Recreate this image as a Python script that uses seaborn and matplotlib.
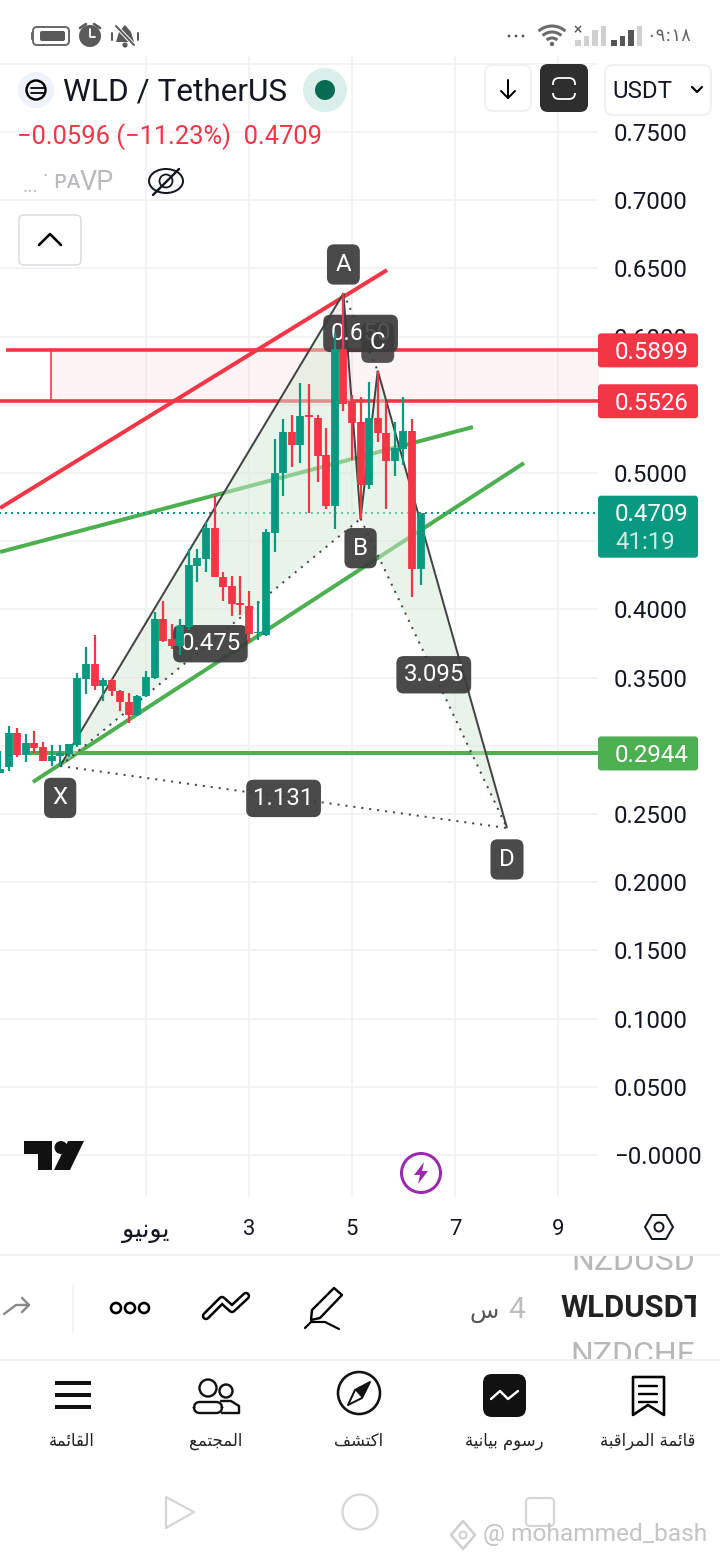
import matplotlib
matplotlib.use("Agg")
import matplotlib.pyplot as plt
import matplotlib.patches as mp
import pandas as pd
import seaborn as sns

# candle data, 4h bars, index 0 = start of June
candle_idx = list(range(-17, 33))
opens = [.2803, .2842, .3091, .2935, .3018, .2989, .2891, .2925, .2940, .3003,
         .3490, .3597, .3441, .3482, .3399, .3324, .3226, .3368, .3495, .3927,
         .3781, .3734, .3873, .4321, .4372, .4594, .4235, .4172, .4044, .4025,
         .3825, .3812, .4563, .4998, .5298, .5208, .5425, .5401, .5130, .4758,
         .5907, .5530, .5371, .4914, .5401, .5296, .5090, .5178, .5308, .4294]
highs = [.2964, .3145, .3128, .3087, .3106, .3028, .3003, .3003, .3013, .3531,
         .3722, .3810, .3495, .3492, .3409, .3385, .3372, .3551, .3979, .4059,
         .3893, .3927, .4440, .4440, .4643, .4831, .4272, .4245, .4245, .4133,
         .4064, .4587, .5249, .5393, .5425, .5657, .5653, .5423, .5327, .6024,
         .6317, .5572, .5560, .5667, .5750, .5523, .5371, .5560, .5393, .4709]
lows = [.2803, .2818, .2920, .2884, .2945, .2891, .2852, .2852, .2920, .2994,
        .3382, .3412, .3331, .3368, .3258, .3170, .3219, .3360, .3490, .3761,
        .3712, .3668, .3849, .4203, .4277, .4235, .4064, .3952, .3959, .3763,
        .3776, .3805, .4423, .4831, .5046, .5076, .4709, .4936, .4739, .4587,
        .5457, .5095, .4665, .4880, .5230, .4739, .4978, .5059, .4093, .4176]
closes = [.2827, .3091, .2935, .3018, .2984, .2891, .2925, .2945, .3013, .3495,
          .3597, .3441, .3482, .3399, .3324, .3228, .3368, .3502, .3927, .3768,
          .3732, .3878, .4323, .4374, .4594, .4235, .4167, .4040, .4035, .3820,
          .3837, .4565, .4998, .5298, .5208, .5418, .5413, .5127, .4758, .5907,
          .5506, .5369, .4914, .5401, .5296, .5090, .5186, .5308, .4294, .4704]

x_ticks = [0, 12, 24, 36, 48]
y_ticks = [.80, .75, .70, .65, .60, .55, .50, .45, .40, .35, .30, .25, .20, .15, .10, .05, 0]
y_tick_labels = ["", "0.7500", "0.7000", "0.6500", "0.6000", "0.5500", "0.5000", "0.4500", "0.4000",
                 "0.3500", "0.3000", "0.2500", "0.2000", "0.1500", "0.1000", "0.0500", "\u22120.0000"]

# harmonic pattern points (index, price)
pt_x = (-10, .2852)
pt_a = (23, .6317)
pt_b = (25, .4665)
pt_c = (27, .5750)
pt_d = (42.06, .2397)

# drawings
red_trend = ([-17, 28.08], [.4743, .6488])
green_upper = ([-17, 38.1], [.4421, .5337])
green_lower = ([-13.17, 44.04], [.2735, .5073])
resistance_top = .5899
resistance_bottom = .5526
support = .2944
last_price = .4709

GREEN = "#089981"
RED = "#F23645"
LINE_GREEN = "#4CAF50"
DARK = "#434343"
TEXT = "#131722"
GRID = "#F2F3F4"

# arabic has to be shaped by hand, matplotlib does no joining or bidi
FORMS = {
    "ا": (0xFE8D, 0xFE8E, None, None), "ب": (0xFE8F, 0xFE90, 0xFE91, 0xFE92),
    "ة": (0xFE93, 0xFE94, None, None), "ت": (0xFE95, 0xFE96, 0xFE97, 0xFE98),
    "ج": (0xFE9D, 0xFE9E, 0xFE9F, 0xFEA0), "ر": (0xFEAD, 0xFEAE, None, None),
    "س": (0xFEB1, 0xFEB2, 0xFEB3, 0xFEB4), "ش": (0xFEB5, 0xFEB6, 0xFEB7, 0xFEB8),
    "ع": (0xFEC9, 0xFECA, 0xFECB, 0xFECC), "ف": (0xFED1, 0xFED2, 0xFED3, 0xFED4),
    "ق": (0xFED5, 0xFED6, 0xFED7, 0xFED8), "ك": (0xFED9, 0xFEDA, 0xFEDB, 0xFEDC),
    "ل": (0xFEDD, 0xFEDE, 0xFEDF, 0xFEE0), "م": (0xFEE1, 0xFEE2, 0xFEE3, 0xFEE4),
    "ن": (0xFEE5, 0xFEE6, 0xFEE7, 0xFEE8), "و": (0xFEED, 0xFEEE, None, None),
    "ي": (0xFEF1, 0xFEF2, 0xFEF3, 0xFEF4), "ئ": (0xFE89, 0xFE8A, 0xFE8B, 0xFE8C),
}


def shape(word):
    out = []
    for i, ch in enumerate(word):
        if ch not in FORMS:
            out.append(ch)
            continue
        prev = word[i - 1] if i > 0 else " "
        nxt = word[i + 1] if i + 1 < len(word) else " "
        join_prev = prev in FORMS and FORMS[prev][2] is not None
        join_next = FORMS[ch][2] is not None and nxt in FORMS
        if join_prev and join_next:
            code = FORMS[ch][3]
        elif join_prev:
            code = FORMS[ch][1]
        elif join_next:
            code = FORMS[ch][2]
        else:
            code = FORMS[ch][0]
        out.append(chr(code))
    return "".join(reversed(out))


def pt(px):
    return px * 0.72


sns.set_theme(style="white", rc={"lines.solid_capstyle": "butt", "lines.dash_capstyle": "butt",
                                 "axes.edgecolor": "white"})
plt.rcParams["font.family"] = ["Roboto", "DejaVu Sans"]

fig = plt.figure(figsize=(7.2, 15.6), dpi=100)
ax = fig.add_axes([0, (1560 - 1197) / 1560, 598 / 720, (1197 - 56) / 1560], zorder=1)
ax.patch.set_alpha(0)

df = pd.DataFrame({"idx": candle_idx, "open": opens, "high": highs, "low": lows, "close": closes})
df["dir"] = ["up" if c >= o else "down" for o, c in zip(opens, closes)]
palette = {"up": GREEN, "down": RED}

wicks = df.melt(id_vars=["idx", "dir"], value_vars=["high", "low"], value_name="price")
bodies = df.melt(id_vars=["idx", "dir"], value_vars=["open", "close"], value_name="price")


def draw(xs, ys, color, width, z, style="-"):
    sns.lineplot(x=xs, y=ys, color=color, lw=pt(width), zorder=z, ax=ax, sort=False,
                 estimator=None, linestyle=style, legend=False)


# resistance zone
zone_start = -11.07
zone_end = 53
ax.fill_between([zone_start, zone_end], resistance_bottom, resistance_top, color=RED, alpha=.05, lw=0, zorder=1)
draw([zone_start, zone_start], [resistance_bottom, resistance_top], RED, 1.6, 1.5)
draw([-16.3, zone_end], [resistance_top, resistance_top], RED, 3.6, 2)
draw([-17.1, zone_end], [resistance_bottom, resistance_bottom], RED, 3.6, 2)
draw([-14, zone_end], [support, support], LINE_GREEN, 4, 2)

# trend lines
draw(red_trend[0], red_trend[1], RED, 4, 2)
draw(green_upper[0], green_upper[1], LINE_GREEN, 4, 2)
draw(green_lower[0], green_lower[1], LINE_GREEN, 4, 2)
draw([-17.1, zone_end], [last_price, last_price], GREEN, 2, 2.2, (0, (1, 2)))

# pattern fill sits over the lines and washes them out
for tri in [(pt_x, pt_a, pt_b), (pt_b, pt_c, pt_d)]:
    ax.fill([p[0] for p in tri], [p[1] for p in tri], color="#D3E9D5", alpha=.5, lw=0, zorder=2.5)

for a, b in [(pt_x, pt_a), (pt_a, pt_b), (pt_b, pt_c), (pt_c, pt_d)]:
    draw([a[0], b[0]], [a[1], b[1]], DARK, 2, 2.6)
for a, b in [(pt_x, pt_b), (pt_a, pt_c), (pt_b, pt_d), (pt_x, pt_d)]:
    draw([a[0], b[0]], [a[1], b[1]], DARK, 2, 2.6, (0, (1, 3)))


def tag(x, y, s, pad=.3, alpha=.93):
    ax.annotate(s, (x, y), xytext=(0, -1), textcoords="offset points", color="white", fontsize=pt(24),
                ha="center", va="center", zorder=3, annotation_clip=False,
                bbox=dict(boxstyle=f"round,pad={pad},rounding_size=.3", fc="#3C3C3C", ec="none", alpha=alpha))


def mid(a, b):
    return (a[0] + b[0]) / 2, (a[1] + b[1]) / 2


tag(*mid(pt_x, pt_b), "0.475")
tag(*mid(pt_a, pt_c), "0.650")
tag(*mid(pt_b, pt_d), "3.095")
tag(*mid(pt_x, pt_d), "1.131")
tag(pt_a[0], pt_a[1] + .0222, "A", .36)
tag(pt_c[0], pt_c[1] + .0215, "C", .36, alpha=.88)
tag(pt_b[0], pt_b[1] - .0206, "B", .36)
tag(pt_x[0], pt_x[1] - .0224, "X", .36)
tag(pt_d[0], pt_d[1] - .022, "D", .36)

# candles go on top of all the drawings
sns.lineplot(data=wicks, x="idx", y="price", hue="dir", units="idx", estimator=None, sort=False,
             palette=palette, lw=pt(2.2), legend=False, zorder=4, ax=ax)
sns.lineplot(data=bodies, x="idx", y="price", hue="dir", units="idx", estimator=None, sort=False,
             palette=palette, lw=pt(7.8), legend=False, zorder=5, ax=ax)

ax.set_xlim((0 - 146) / 8.583, (598 - 146) / 8.583)
ax.set_ylim((1155 - 1197) / 1364, (1155 - 56) / 1364)
ax.set_xticks(x_ticks)
ax.set_xticklabels([shape("يونيو"), "3", "5", "7", "9"])
ax.yaxis.tick_right()
ax.set_yticks(y_ticks)
ax.set_yticklabels(y_tick_labels)
ax.tick_params(axis="y", length=0, pad=pt(16), labelsize=pt(24), labelcolor=TEXT)
ax.tick_params(axis="x", length=0, pad=pt(22), labelsize=pt(22), labelcolor=TEXT)
ax.get_xticklabels()[0].set_fontsize(pt(25))
ax.grid(True, color=GRID, lw=pt(2))
ax.set_axisbelow(True)
ax.set_xlabel("")
ax.set_ylabel("")
for s in ax.spines.values():
    s.set_visible(False)

# overlay in pixel coordinates for the app chrome
ui = fig.add_axes([0, 0, 1, 1], zorder=2)
ui.set_xlim(0, 720)
ui.set_ylim(1560, 0)
ui.axis("off")
ui.patch.set_alpha(0)


def price_y(p):
    return 1560 - ax.transData.transform((0, p))[1]


def rbox(x0, y0, x1, y1, fc="none", ec="none", lw=0, r=6, **kw):
    b = mp.FancyBboxPatch((x0, y0), x1 - x0, y1 - y0, boxstyle=f"round,pad=0,rounding_size={r}",
                          fc=fc, ec=ec, lw=pt(lw), **kw)
    ui.add_patch(b)
    return b


def circ(x, y, r, fc="none", ec="none", lw=0):
    ui.add_patch(mp.Circle((x, y), r, fc=fc, ec=ec, lw=pt(lw)))


def poly(pts, fc="none", ec="none", lw=0, closed=True):
    ui.add_patch(mp.Polygon(pts, closed=closed, fc=fc, ec=ec, lw=pt(lw), joinstyle="round"))


def line(xs, ys, c="black", lw=2, **kw):
    ui.plot(xs, ys, color=c, lw=pt(lw), solid_capstyle="round", **kw)


def label(x, y, s, px, c=TEXT, ha="left", **kw):
    # va=center sits about 2px high for this font
    return ui.text(x, y + 2, s, fontsize=pt(px), color=c, ha=ha, va="center", **kw)


# price tags on the axis
for p, colour, txt in [(resistance_top, RED, "0.5899"), (resistance_bottom, RED, "0.5526"),
                       (support, LINE_GREEN, "0.2944")]:
    y = price_y(p)
    rbox(598, y - 17, 698, y + 17, fc=colour, r=3)
    label(615, y, txt, 24, "white")
y = price_y(last_price)
rbox(598, y - 17, 698, y + 45, fc=GREEN, r=3)
label(615, y, "0.4709", 24, "white")
label(615, y + 28, "41:19", 24, "#CDEBE5")

# header
circ(36, 90, 18, fc="#EEF2FA")
circ(36, 90, 9.5, ec="black", lw=2.4)
line([31, 45], [87.5, 87.5], lw=1.8)
line([31, 45], [92.5, 92.5], lw=1.8)
label(63, 90, "WLD / TetherUS", 31.5)
circ(325, 90, 22, fc="#DAEFEA")
circ(325, 90, 10, fc="#086B54")
label(17, 135, "\u22120.0596 (\u221211.23%)  0.4709", 25.5, RED)
label(23, 184, "...", 20, "#B8BABD")
label(42, 175, "\u00b7", 20, "#B8BABD")
label(53, 179, "\u1d18\u1d00", 25, "#B8BABD", family=["DejaVu Sans"])
label(80, 181, "VP", 27, "#B8BABD")
ui.add_patch(mp.Ellipse((166, 181), 34, 24, fc="none", ec="#131722", lw=pt(2)))
circ(166, 181, 6.5, ec="#131722", lw=1.8)
line([153, 179], [195, 169], "#131722", 2.4)
rbox(19, 215, 81, 265, ec="#DADCE0", lw=1.5, fc="white", r=5)
line([39, 50, 61], [245, 234, 245], "black", 2.6)

# top right buttons
rbox(485, 65, 531, 111, ec="#EEEFF1", lw=1.8, fc="white", r=8)
line([508, 508], [80, 98], "black", 2)
line([501, 508, 515], [91, 98, 91], "black", 2)
rbox(540, 64, 588, 112, fc="#2E2E2E", r=8)
rbox(553, 78, 575, 99, ec="white", lw=1.8, r=6)
ui.plot([550, 578], [88.5, 88.5], color="#2E2E2E", lw=pt(8), solid_capstyle="butt")
rbox(605, 65, 711, 115, ec="#EEEFF1", lw=1.8, fc="white", r=8)
label(612, 90, "USDT", 24)
line([692, 697, 702], [87, 92, 87], "black", 2.2)

# status bar
rbox(33, 27, 69, 45, ec="#6A6A6A", lw=2, r=4)
rbox(40, 31, 65, 41, fc="#5A5A5A", r=2)
line([31.5, 31.5], [33, 39], "#6A6A6A", 2)
circ(90, 36, 11, fc="#5A5A5A")
line([90, 90, 95], [29, 37, 37], "white", 1.8)
line([80, 86], [28, 24], "#5A5A5A", 2.6)
line([94, 100], [24, 28], "#5A5A5A", 2.6)
poly([(116, 42), (119, 32), (125, 25), (131, 32), (134, 42)], fc="#5A5A5A")
circ(125, 45, 2.6, fc="#5A5A5A")
line([116, 134], [26, 45], "white", 4)
line([116, 134], [26, 45], "#5A5A5A", 2)
for xx in (112, 138):
    line([xx, xx], [33, 40], "#5A5A5A", 2)
for xx in (509, 516, 523):
    circ(xx, 36, 1.4, fc="#555555")
for rad in (20, 14, 8):
    ui.add_patch(mp.Arc((552, 46), 2 * rad, 2 * rad, theta1=228, theta2=312, ec="#6A6A6A", lw=pt(3)))
circ(552, 44, 2.2, fc="#6A6A6A")
for bars, x0, cols in [([6, 10, 16, 20], 575, ["#D0D0D0"] * 4),
                       ([6, 10, 16, 20], 611, ["#555555", "#555555", "#555555", "#D0D0D0"])]:
    for i, (h, c) in enumerate(zip(bars, cols)):
        ui.add_patch(mp.Rectangle((x0 + i * 8.6, 46 - h), 5.5, h, fc=c, ec="none"))
label(578, 28, "\u00d7", 12, "#555555", ha="center", family=["DejaVu Sans"], fontweight="bold")
label(669, 34, "٠٩:١٨", 18, "#666666", ha="center", family=["DejaVu Sans"])

# tradingview logo and lightning
poly([(24, 1141), (52, 1141), (52, 1170), (38, 1170), (38, 1154), (24, 1154)], fc="#111111")
circ(61, 1147.5, 6.5, fc="#111111")
poly([(68, 1141), (84, 1141), (70, 1170), (54, 1170)], fc="#111111")
circ(421, 1173, 19.5, ec="#9C27B0", lw=3, fc="white")
poly([(424, 1162), (414, 1175), (420, 1175), (418, 1184), (428, 1171), (422, 1171)], fc="#9C27B0")
poly([(645, 1227), (652, 1215), (666, 1215), (673, 1227), (666, 1239), (652, 1239)], ec="#131722", lw=2)
circ(659, 1227, 4.5, ec="#131722", lw=2)

# separators
line([0, 720], [1255, 1255], "#EFEFEF", 2)
line([0, 720], [1360, 1360], "#EFEFEF", 2)
line([73, 73], [1285, 1332], "#EFEFEF", 1.5)

# symbol picker, neighbours are cut off by the wheel
for yy, s, clip_top, clip_bot in [(1260, "NZDUSD", 1256, 1275), (1354, "NZDCHF", 1342, 1359)]:
    t = label(695, yy, s, 32, "#B8B8B8", ha="right")
    t.set_clip_on(True)
    t.set_clip_path(mp.Rectangle((560, clip_top), 140, clip_bot - clip_top, transform=ui.transData))
t = label(560, 1306, "WLDUSDT", 31, "#222222", fontweight="bold")
t.set_clip_on(True)
t.set_clip_path(mp.Rectangle((555, 1280), 141, 60, transform=ui.transData))
label(517, 1308, "4", 30, "#BDBDBD", ha="center")
label(484, 1309, shape("س"), 24, "#555555", ha="center", family=["DejaVu Sans"])

# toolbar icons
line([4, 16, 29], [1314, 1305, 1305], "#8A8A8A", 2.4)
line([22, 29, 22], [1298, 1305, 1312], "#8A8A8A", 2.4)
for xx in (116, 130, 144):
    circ(xx, 1308, 5, ec="black", lw=2.6)
line([206, 222, 232, 246], [1316, 1300, 1309, 1296], "black", 8.5)
line([206, 222, 232, 246], [1316, 1300, 1309, 1296], "white", 3.5)
poly([(311, 1320), (312, 1310), (334, 1288), (342, 1295), (320, 1318)], ec="black", lw=2.4, fc="white")
line([305, 311, 325, 339], [1328, 1322, 1322, 1329], "black", 2.2)

# bottom nav
poly([(633, 1377), (664, 1377), (664, 1415), (648, 1405), (633, 1415)], ec="black", lw=2.6, fc="white")
for yy in (1386, 1394, 1402):
    line([639, 657], [yy, yy], "black", 2.4)
rbox(483, 1374, 526, 1417, fc="#111111", r=9)
line([491, 500, 508, 518], [1399, 1391, 1399, 1391], "white", 2.4)
circ(359, 1393, 21, ec="#111111", lw=2.6)
poly([(370, 1382), (362, 1398), (348, 1405), (355, 1390)], ec="#111111", fc="white", lw=2)
poly([(370, 1382), (362, 1398), (355, 1390)], fc="#111111")
circ(208, 1388, 8.5, ec="#111111", lw=2.4)
circ(226, 1391, 6.5, ec="#111111", lw=2.4)
rbox(194, 1402, 222, 1413, ec="#111111", lw=2.4, fc="white", r=6)
line([222, 239, 239, 231, 221], [1413, 1413, 1406, 1401, 1401], "#111111", 2.4)
for yy in (1383, 1395, 1407):
    ui.plot([55, 91], [yy, yy], color="#111111", lw=pt(4), solid_capstyle="butt")
for xx, s in [(648, "قائمة المراقبة"), (504, "رسوم بيانية"), (359, "اكتشف"), (216, "المجتمع"), (72, "القائمة")]:
    label(xx, 1439, shape(s), 16.5, "#222222", ha="center", family=["DejaVu Sans"])

# android nav and watermark
poly([(166, 1497), (194, 1512), (166, 1528)], ec="#D6D6D6", lw=2.2)
circ(360, 1512, 17.5, ec="#D6D6D6", lw=2.2)
rbox(526, 1498, 554, 1526, ec="#D6D6D6", lw=2.2, r=4)
poly([(463, 1521), (475, 1535), (463, 1549), (451, 1535)], ec="#CFCFCF", lw=2.5)
circ(463, 1535, 3.5, ec="#CFCFCF", lw=2)
label(483, 1533, "@ mohammed_bash", 24.5, "#C4C4C4")

fig.savefig("out.png", dpi=100)
